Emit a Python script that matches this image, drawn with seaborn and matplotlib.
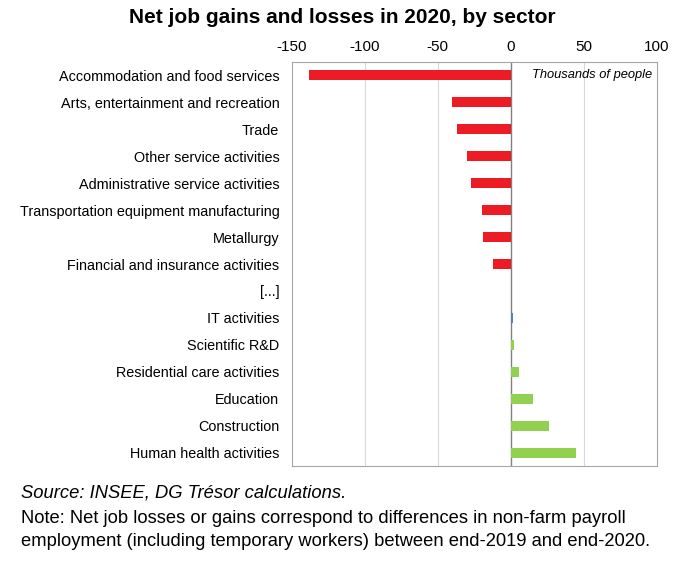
import matplotlib
matplotlib.use("Agg")
import matplotlib.pyplot as plt
import seaborn as sns
import pandas as pd

sectors = [
    "Accommodation and food services",
    "Arts, entertainment and recreation",
    "Trade",
    "Other service activities",
    "Administrative service activities",
    "Transportation equipment manufacturing",
    "Metallurgy",
    "Financial and insurance activities",
    "[...]",
    "IT activities",
    "Scientific R&D",
    "Residential care activities",
    "Education",
    "Construction",
    "Human health activities",
]
values = [-138, -40, -37, -30, -27, -20, -19, -12, 0, 1.2, 2, 5.5, 15, 26, 44.5]
colors = ["#ED1C24"] * 8 + ["#FFFFFF", "#4F81BD"] + ["#92D050"] * 5

sns.set_theme(style="white")
plt.rcParams["font.family"] = ["Liberation Sans", "DejaVu Sans"]
plt.rcParams["axes.unicode_minus"] = False
plt.rcParams["text.color"] = "black"
plt.rcParams["xtick.color"] = "black"
plt.rcParams["ytick.color"] = "black"

df = pd.DataFrame({"sector": sectors, "value": values})

fig = plt.figure(figsize=(6.85, 5.79), dpi=100)
ax = fig.add_axes([0.426, 0.195, 0.533, 0.698])

sns.barplot(data=df, x="value", y="sector", hue="sector", palette=colors,
            legend=False, width=0.37, ax=ax, orient="h", saturation=1,
            zorder=2, linewidth=0)

ax.set_xlim(-150, 100)
ax.set_xticks([-150, -100, -50, 0, 50, 100])
ax.xaxis.tick_top()
ax.tick_params(axis="x", length=0, labelsize=11, pad=6)
ax.tick_params(axis="y", length=0, labelsize=10.4, pad=9)
ax.set_xlabel("")
ax.set_ylabel("")
for x in [-100, -50, 50]:
    ax.axvline(x, color="#D9D9D9", lw=0.8, zorder=0)
ax.axvline(0, color="#808080", lw=1.0, zorder=1)
for s in ax.spines.values():
    s.set_color("#A6A6A6")
    s.set_linewidth(0.8)

ax.text(97, 0, "Thousands of people", ha="right", va="center",
        fontsize=9.3, style="italic")

fig.text(0.5, 0.97, "Net job gains and losses in 2020, by sector",
         ha="center", va="center", fontsize=15, fontweight="bold")
fig.text(0.03, 0.148, "Source: INSEE, DG Trésor calculations.",
         ha="left", va="center", fontsize=13.2, style="italic")
fig.text(0.03, 0.104, "Note: Net job losses or gains correspond to differences in non-farm payroll",
         ha="left", va="center", fontsize=13.2)
fig.text(0.03, 0.065, "employment (including temporary workers) between end-2019 and end-2020.",
         ha="left", va="center", fontsize=13.2)

fig.savefig("out.png", dpi=100)
